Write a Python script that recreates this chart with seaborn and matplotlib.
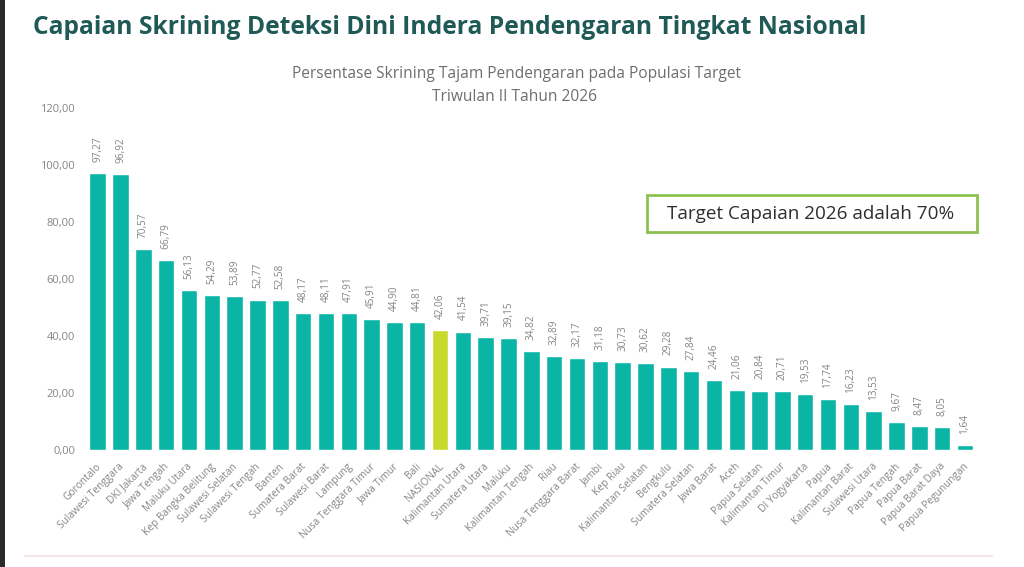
#!/usr/bin/env python3

import pandas as pd
import matplotlib
matplotlib.use('Agg')
import matplotlib.pyplot as plt
from matplotlib.patches import Rectangle
from matplotlib.lines import Line2D
from matplotlib.transforms import ScaledTranslation
import seaborn as sns

# -> DATA
provinces = ['Gorontalo', 'Sulawesi Tenggara', 'DKI Jakarta', 'Jawa Tengah', 'Maluku Utara',
             'Kep Bangka Belitung', 'Sulawesi Selatan', 'Sulawesi Tengah', 'Banten', 'Sumatera Barat',
             'Sulawesi Barat', 'Lampung', 'Nusa Tenggara Timur', 'Jawa Timur', 'Bali', 'NASIONAL',
             'Kalimantan Utara', 'Sumatera Utara', 'Maluku', 'Kalimantan Tengah', 'Riau',
             'Nusa Tenggara Barat', 'Jambi', 'Kep Riau', 'Kalimantan Selatan', 'Bengkulu',
             'Sumatera Selatan', 'Jawa Barat', 'Aceh', 'Papua Selatan', 'Kalimantan Timur',
             'DI Yogyakarta', 'Papua', 'Kalimantan Barat', 'Sulawesi Utara', 'Papua Tengah',
             'Papua Barat', 'Papua Barat Daya', 'Papua Pegunungan']
values = [97.27, 96.92, 70.57, 66.79, 56.13, 54.29, 53.89, 52.77, 52.58, 48.17,
          48.11, 47.91, 45.91, 44.90, 44.81, 42.06, 41.54, 39.71, 39.15, 34.82,
          32.89, 32.17, 31.18, 30.73, 30.62, 29.28, 27.84, 24.46, 21.06, 20.84,
          20.71, 19.53, 17.74, 16.23, 13.53, 9.67, 8.47, 8.05, 1.64]
y_ticks = [0, 20, 40, 60, 80, 100, 120]

TEAL = '#0BB5A6'
LIME = '#C8DA2B'
GRAY = '#858585'
W, H = 1024, 567

df = pd.DataFrame({'provinsi': provinces, 'capaian': values})
df['grup'] = ['nasional' if p == 'NASIONAL' else 'provinsi' for p in provinces]


def fmt(v):
    return f'{v:.2f}'.replace('.', ',')


sns.set_theme(style='white')
plt.rcParams['font.family'] = ['Open Sans', 'DejaVu Sans']

fig = plt.figure(figsize=(W / 100, H / 100), dpi=100, facecolor='white')
ax = fig.add_axes([86.3 / W, 1 - 450 / H, (976.4 - 86.3) / W, (450 - 108) / H])

# -> CHART
sns.barplot(data=df, x='provinsi', y='capaian', hue='grup', dodge=False, width=0.72, saturation=1,
            palette={'provinsi': TEAL, 'nasional': LIME}, legend=False, ax=ax)

ax.set_xlim(-0.5, len(provinces) - 0.5)
ax.set_ylim(0, 120)
ax.set_xlabel('')
ax.set_ylabel('')
ax.set_yticks(y_ticks)
ax.set_yticklabels([fmt(t) for t in y_ticks], fontsize=8, color=GRAY)
ax.set_xticks(range(len(provinces)))
ax.set_xticklabels(provinces, rotation=45, ha='right', rotation_mode='anchor',
                   fontsize=7.3, color=GRAY)
ax.tick_params(axis='y', length=0, pad=8)
ax.tick_params(axis='x', length=0, pad=8)
sns.despine(ax=ax, left=True, bottom=True)

# nudge the slanted labels a little to the left, like the reference
shift = ScaledTranslation(-1.5 / 72, 0, fig.dpi_scale_trans)
for lab in ax.get_xticklabels():
    lab.set_transform(lab.get_transform() + shift)

# value labels above the bars
for x, v in enumerate(values):
    ax.annotate(fmt(v), (x, v), xytext=(0, 8), textcoords='offset points', rotation=90,
                ha='center', va='bottom', fontsize=7.2, color=GRAY)

# -> TEXTS
fig.text(33 / W, 1 - 27 / H, 'Capaian Skrining Deteksi Dini Indera Pendengaran Tingkat Nasional',
         fontsize=17.7, fontweight='bold', color='#1F5A57', ha='left', va='center')
fig.text(516 / W, 1 - 74 / H, 'Persentase Skrining Tajam Pendengaran pada Populasi Target',
         fontsize=11.2, color='#6E6E6E', ha='center', va='center')
fig.text(514 / W, 1 - 97 / H, 'Triwulan II Tahun 2026',
         fontsize=11.2, color='#6E6E6E', ha='center', va='center')

# target box
fig.add_artist(Rectangle((646.5 / W, 1 - 232.5 / H), 330 / W, 37.5 / H, transform=fig.transFigure,
                         facecolor='white', edgecolor='#8CC152', linewidth=2))
fig.text(811 / W, 1 - 214 / H, 'Target Capaian 2026 adalah 70%',
         fontsize=13.6, color='#2E2E2E', ha='center', va='center')

# page decoration: dark strip left, thin line at the bottom
fig.add_artist(Rectangle((0, 0), 5 / W, 1, transform=fig.transFigure, facecolor='#2B2B2B', edgecolor='none'))
fig.add_artist(Line2D([25 / W, 992 / W], [1 - 556 / H, 1 - 556 / H], transform=fig.transFigure,
                      color='#F3E6E4', linewidth=1.5))

fig.savefig('out.png', dpi=100)
